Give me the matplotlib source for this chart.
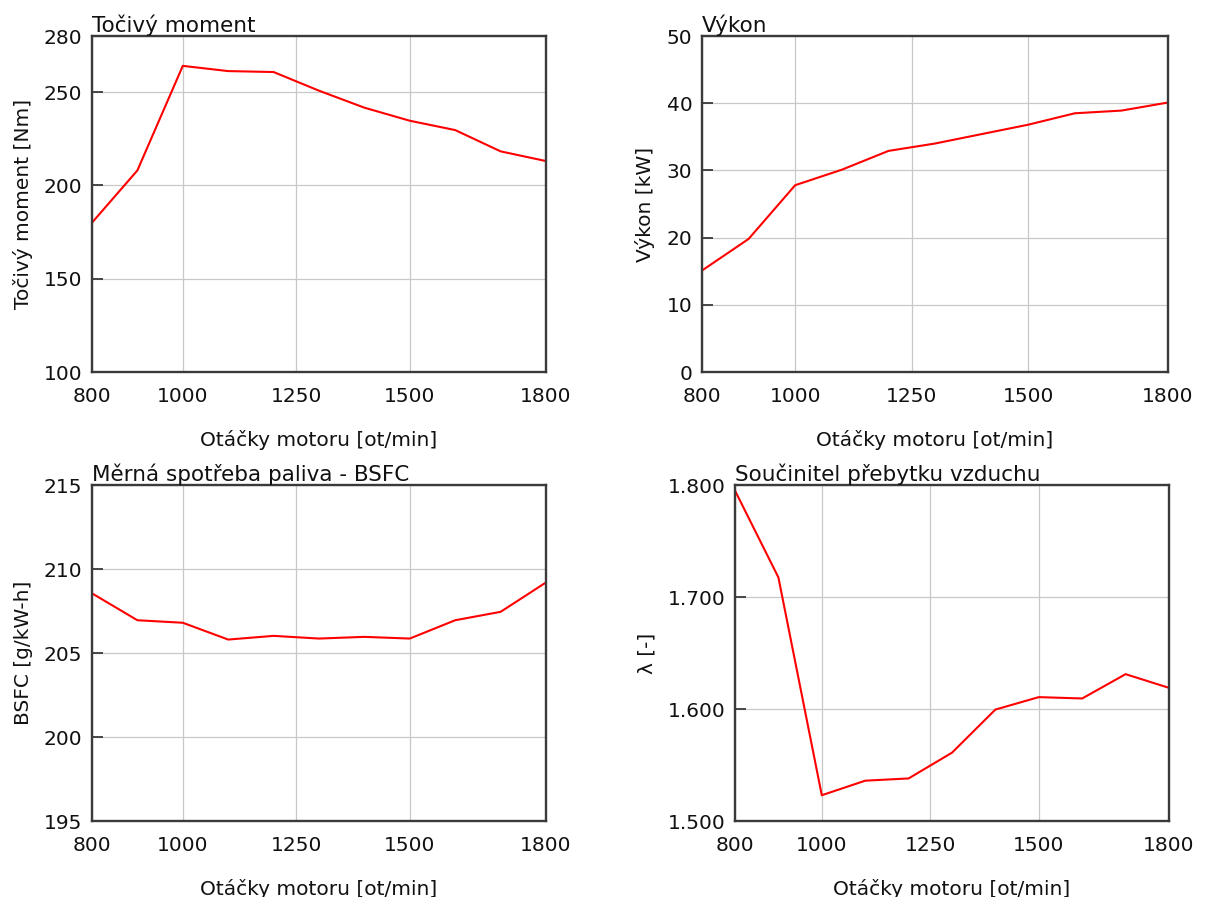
import matplotlib
matplotlib.use("Agg")
import matplotlib.pyplot as plt
from matplotlib.ticker import FixedLocator, FormatStrFormatter

plt.rcParams['font.family'] = ['DejaVu Sans']

# ---- data ----
rpm = [800, 900, 1000, 1100, 1200, 1300, 1400, 1500, 1600, 1700, 1800]
torque = [180.0, 208.0, 264.0, 261.2, 260.7, 250.7, 241.6, 234.6, 229.6, 218.2, 213.0]
power = [15.1, 19.8, 27.8, 30.1, 32.9, 34.0, 35.4, 36.8, 38.5, 38.9, 40.1]
bsfc = [208.55, 206.95, 206.8, 205.8, 206.02, 205.86, 205.96, 205.86, 206.95, 207.45, 209.2]
lam = [1.795, 1.7175, 1.523, 1.536, 1.538, 1.561, 1.5995, 1.6106, 1.6094, 1.6311, 1.6189]

x_ticks = [800, 1000, 1250, 1500, 1800]
torque_ticks = [100, 150, 200, 250, 280]
power_ticks = [0, 10, 20, 30, 40, 50]
bsfc_ticks = [195, 200, 205, 210, 215]
lam_ticks = [1.5, 1.6, 1.7, 1.8]

titles = ["Točivý moment", "Výkon", "Měrná spotřeba paliva - BSFC", "Součinitel přebytku vzduchu"]
ylabels = ["Točivý moment [Nm]", "Výkon [kW]", "BSFC [g/kW-h]", "λ [-]"]
xlabel = "Otáčky motoru [ot/min]"

W, H = 1208, 897
fig = plt.figure(figsize=(W / 100, H / 100), dpi=100)

def rect(l, r, t, b):
    return [l / W, 1 - b / H, (r - l) / W, (b - t) / H]

rects = [rect(92, 546, 36, 372), rect(702, 1168, 36, 372),
         rect(92, 546, 485, 821), rect(735, 1169, 485, 821)]
series = [torque, power, bsfc, lam]
yticks = [torque_ticks, power_ticks, bsfc_ticks, lam_ticks]

FS = 14.5
for i in range(4):
    ax = fig.add_axes(rects[i])
    ax.plot(rpm, series[i], color='#ff0000', lw=1.5)
    ax.set_xlim(x_ticks[0], x_ticks[-1])
    ax.set_ylim(yticks[i][0], yticks[i][-1])
    ax.xaxis.set_major_locator(FixedLocator(x_ticks))
    ax.yaxis.set_major_locator(FixedLocator(yticks[i]))
    if i == 3:
        ax.yaxis.set_major_formatter(FormatStrFormatter('%.3f'))
    ax.grid(True, color='#c8c8c8', lw=0.9)
    ax.set_axisbelow(True)
    for sp in ax.spines.values():
        sp.set_color('#3a3a3a')
        sp.set_linewidth(1.7)
    ax.tick_params(axis='y', direction='in', length=8, width=1.3, color='#3a3a3a',
                   labelsize=FS, pad=7, labelcolor='#111111')
    ax.tick_params(axis='x', length=0, labelsize=FS, pad=11, labelcolor='#111111')
    ax.set_xlabel(xlabel, fontsize=FS, labelpad=17, color='#111111')
    ax.set_ylabel(ylabels[i], fontsize=FS, labelpad=8, color='#111111')
    ax.text(0.0, 1.0, titles[i], transform=ax.transAxes, ha='left', va='bottom',
            fontsize=15.5, color='#111111')

fig.savefig('out.png', dpi=100, facecolor='white')
